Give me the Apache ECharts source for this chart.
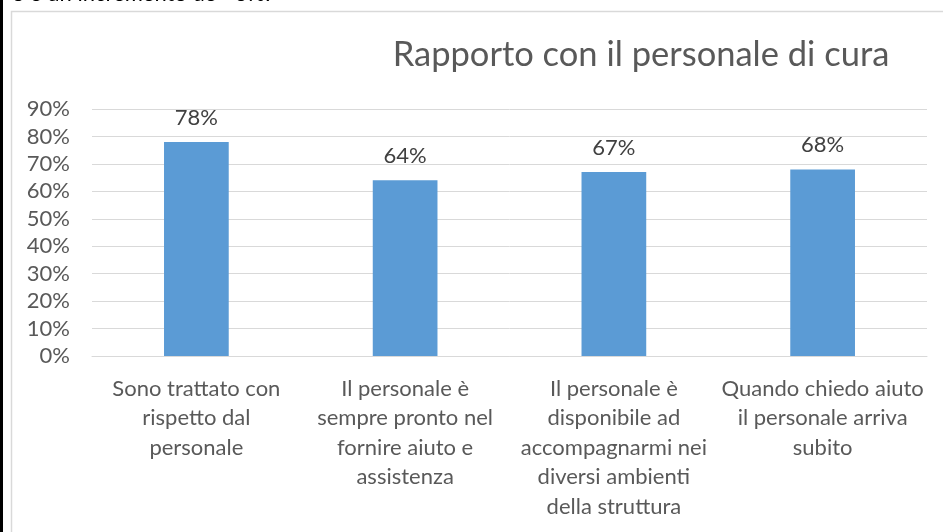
<!DOCTYPE html>
<html>
<head>
<meta charset="utf-8">
<script src="https://cdn.jsdelivr.net/npm/echarts@6/dist/echarts.min.js"></script>
<style>
  html, body { margin: 0; padding: 0; background: #fff; }
  #chart { width: 943px; height: 532px; }
</style>
</head>
<body>
<div id="chart"></div>
<script>
// Risposte del questionario: rapporto con il personale di cura
const categories = [
  'Sono trattato con\nrispetto dal\npersonale',
  'Il personale è\nsempre pronto nel\nfornire aiuto e\nassistenza',
  'Il personale è\ndisponibile ad\naccompagnarmi nei\ndiversi ambienti\ndella struttura',
  'Quando chiedo aiuto\nil personale arriva\nsubito'
];
const percentages = [78, 64, 67, 68];
const yTicks = { min: 0, max: 90, step: 10 };
const titleText = 'Rapporto con il personale di cura';
const previousLine = 'o è un incremento de +3%.';

const FONT = 'Lato, "Open Sans", sans-serif';
const chart = echarts.init(document.getElementById('chart'), null, { renderer: 'canvas' });

chart.setOption({
  backgroundColor: '#ffffff',
  animation: false,
  title: {
    text: titleText,
    left: 636,
    top: 32,
    textAlign: 'center',
    textStyle: { fontFamily: FONT, fontSize: 34.5, fontWeight: 'normal', color: '#595959' }
  },
  graphic: [
    // page margin bar on the left
    { type: 'rect', shape: { x: 0, y: 0, width: 3, height: 532 }, style: { fill: '#000' }, silent: true },
    // chart frame
    { type: 'rect', shape: { x: 11.5, y: 11.5, width: 1000, height: 600 },
      style: { fill: 'none', stroke: '#d9d9d9', lineWidth: 1.5 }, silent: true },
    // bottom of the preceding paragraph line
    { type: 'text', x: 12, y: 5, style: { text: previousLine, fill: '#000', font: '22px ' + FONT, textVerticalAlign: 'bottom' }, silent: true }
  ],
  grid: { left: 92, right: 16, top: 109, bottom: 176, containLabel: false },
  xAxis: {
    type: 'category',
    data: categories,
    axisLine: { show: true, lineStyle: { color: '#d9d9d9', width: 1 } },
    axisTick: { show: false },
    axisLabel: {
      interval: 0,
      margin: 18,
      fontFamily: FONT,
      fontSize: 22,
      lineHeight: 29.5,
      color: '#595959',
      align: 'center'
    }
  },
  yAxis: {
    type: 'value',
    min: yTicks.min,
    max: yTicks.max,
    interval: yTicks.step,
    axisLine: { show: false },
    axisTick: { show: false },
    splitLine: { lineStyle: { color: '#d9d9d9', width: 1 } },
    axisLabel: {
      formatter: '{value}%',
      margin: 22,
      fontFamily: FONT,
      fontSize: 22,
      color: '#595959'
    }
  },
  series: [{
    type: 'bar',
    data: percentages,
    barWidth: '31%',
    itemStyle: { color: '#5b9bd5' },
    label: {
      show: true,
      position: 'top',
      distance: 13,
      formatter: '{c}%',
      fontFamily: FONT,
      fontSize: 22,
      color: '#404040'
    }
  }]
});
</script>
</body>
</html>
